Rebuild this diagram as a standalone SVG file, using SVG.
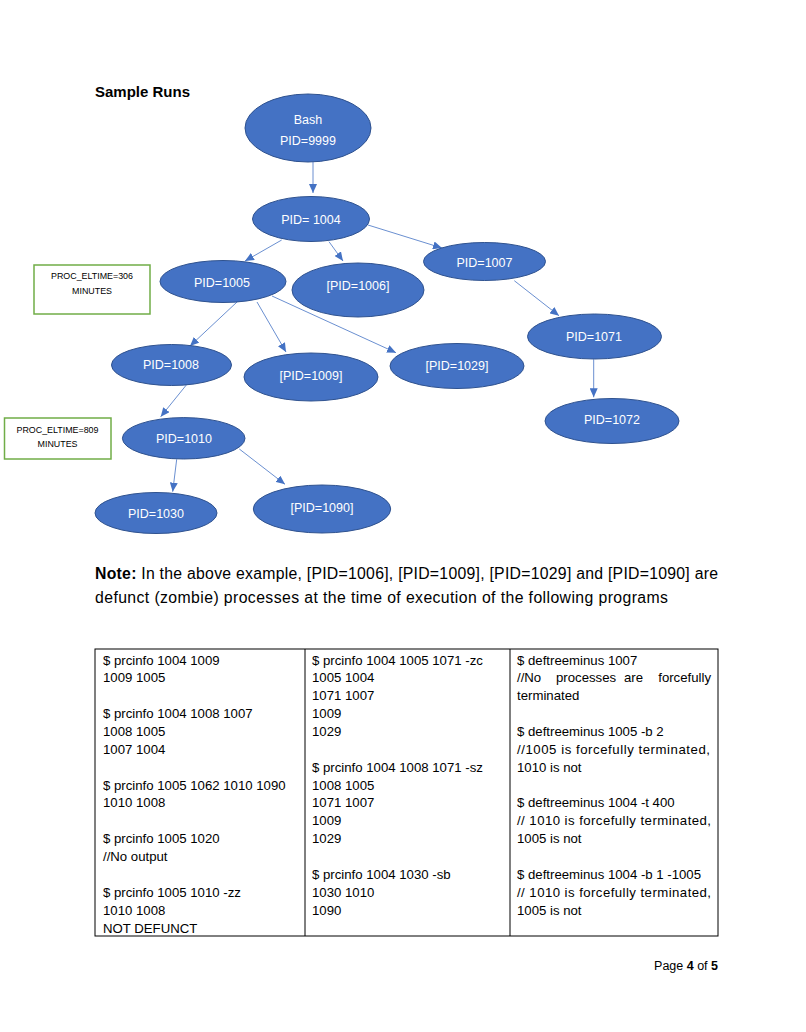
<svg xmlns="http://www.w3.org/2000/svg" width="806" height="1032" viewBox="0 0 806 1032">
<style>
.bg{fill:#ffffff}
.node ellipse{fill:#4472C4;stroke:#2F528F;stroke-width:1}
.node text{fill:#ffffff;font-family:"Liberation Sans",Arial,sans-serif;font-size:12.5px;text-anchor:middle}
.note-box rect{fill:#ffffff;stroke:#70AD47;stroke-width:1.5}
.note-box text{fill:#000000;font-family:"Liberation Sans",Arial,sans-serif;font-size:8.9px;text-anchor:middle}
.conn line{stroke:#4472C4;stroke-width:0.8;fill:none;marker-end:url(#ah)}
.body{fill:#000000;font-family:"Liberation Sans",Arial,sans-serif}
.tbl{fill:#000000;font-family:"Liberation Sans",Arial,sans-serif;font-size:13.2px}
.grid{stroke:#000000;stroke-width:1;fill:none}
</style>
<defs>
<marker id="ah" markerUnits="userSpaceOnUse" markerWidth="9" markerHeight="8" refX="9" refY="4" orient="auto">
<path d="M0,0 L9,4 L0,8 z" fill="#4472C4"/>
</marker>
</defs>
<rect class="bg" x="0" y="0" width="806" height="1032"/>

<text class="body" x="95" y="97" font-size="15" font-weight="bold" textLength="95" lengthAdjust="spacingAndGlyphs">Sample Runs</text>

<g id="connectors" class="conn">
<line x1="313" y1="162" x2="313" y2="193"/>
<line x1="281.7" y1="240" x2="245" y2="261"/>
<line x1="329" y1="241.7" x2="343" y2="261"/>
<line x1="368" y1="225" x2="442" y2="248"/>
<line x1="237" y1="302" x2="190" y2="346"/>
<line x1="257" y1="302" x2="286" y2="352"/>
<line x1="272" y1="296" x2="396" y2="352.7"/>
<line x1="514.3" y1="280.7" x2="559" y2="315.7"/>
<line x1="593.7" y1="359.3" x2="593.7" y2="397.3"/>
<line x1="187.7" y1="383.3" x2="160.7" y2="416.7"/>
<line x1="176.7" y1="459.3" x2="172.7" y2="491.7"/>
<line x1="239.3" y1="449" x2="285" y2="484.3"/>
</g>

<g id="node-bash" class="node">
<ellipse cx="308" cy="128" rx="63" ry="34"/>
<text x="308" y="123.5">Bash</text>
<text x="308" y="144.5">PID=9999</text>
</g>
<g id="node-1004" class="node">
<ellipse cx="311" cy="219" rx="58.5" ry="22.5"/>
<text x="311" y="223.5">PID= 1004</text>
</g>
<g id="node-1005" class="node">
<ellipse cx="223" cy="281.5" rx="63" ry="21"/>
<text x="222" y="286.5">PID=1005</text>
</g>
<g id="node-1006" class="node">
<ellipse cx="358" cy="290" rx="66" ry="27"/>
<text x="358" y="289.5">[PID=1006]</text>
</g>
<g id="node-1007" class="node">
<ellipse cx="484.5" cy="261.5" rx="61" ry="19"/>
<text x="484.5" y="266.5">PID=1007</text>
</g>
<g id="node-1071" class="node">
<ellipse cx="594.5" cy="336.5" rx="67" ry="22.5"/>
<text x="594" y="340.5">PID=1071</text>
</g>
<g id="node-1072" class="node">
<ellipse cx="612" cy="421" rx="67" ry="22.5"/>
<text x="612" y="424">PID=1072</text>
</g>
<g id="node-1029" class="node">
<ellipse cx="457" cy="366" rx="67" ry="22.5"/>
<text x="457" y="370">[PID=1029]</text>
</g>
<g id="node-1008" class="node">
<ellipse cx="171.5" cy="365" rx="60" ry="20.5"/>
<text x="171" y="368.5">PID=1008</text>
</g>
<g id="node-1009" class="node">
<ellipse cx="311" cy="377" rx="67" ry="24"/>
<text x="311" y="379.5">[PID=1009]</text>
</g>
<g id="node-1010" class="node">
<ellipse cx="183.7" cy="438.3" rx="61.3" ry="20.7"/>
<text x="184" y="442.5">PID=1010</text>
</g>
<g id="node-1030" class="node">
<ellipse cx="156" cy="513" rx="61" ry="20.5"/>
<text x="156" y="517.5">PID=1030</text>
</g>
<g id="node-1090" class="node">
<ellipse cx="322" cy="509" rx="68.7" ry="24"/>
<text x="322" y="511.5">[PID=1090]</text>
</g>

<g id="note-306" class="note-box">
<rect x="34" y="265" width="116" height="49"/>
<text x="92" y="279">PROC_ELTIME=306</text>
<text x="92" y="294">MINUTES</text>
</g>
<g id="note-809" class="note-box">
<rect x="4.5" y="418" width="106.5" height="41"/>
<text x="57.5" y="433">PROC_ELTIME=809</text>
<text x="57.5" y="446.5">MINUTES</text>
</g>

<text class="body" x="95" y="578.5" font-size="15.8" textLength="623" lengthAdjust="spacing"><tspan font-weight="bold">Note:</tspan> In the above example, [PID=1006], [PID=1009], [PID=1029] and [PID=1090] are</text>
<text class="body" x="95" y="602.5" font-size="15.8" textLength="573" lengthAdjust="spacing">defunct (zombie) processes at the time of execution of the following programs</text>

<g id="table">
<rect class="grid" x="95" y="649" width="623" height="287"/>
<line class="grid" x1="305" y1="649" x2="305" y2="936"/>
<line class="grid" x1="510" y1="649" x2="510" y2="936"/>

<g class="tbl">
<text x="103" y="664.5">$ prcinfo 1004 1009</text>
<text x="103" y="682.4">1009 1005</text>
<text x="103" y="718.1">$ prcinfo 1004 1008 1007</text>
<text x="103" y="736">1008 1005</text>
<text x="103" y="753.8">1007 1004</text>
<text x="103" y="789.6">$ prcinfo 1005 1062 1010 1090</text>
<text x="103" y="807.4">1010 1008</text>
<text x="103" y="843.2">$ prcinfo 1005 1020</text>
<text x="103" y="861">//No output</text>
<text x="103" y="896.8">$ prcinfo 1005 1010  -zz</text>
<text x="103" y="914.6">1010 1008</text>
<text x="103" y="932.5">NOT DEFUNCT</text>

<text x="312" y="664.5">$ prcinfo 1004 1005 1071 -zc</text>
<text x="312" y="682.4">1005 1004</text>
<text x="312" y="700.2">1071 1007</text>
<text x="312" y="718.1">1009</text>
<text x="312" y="736">1029</text>
<text x="312" y="771.7">$ prcinfo 1004 1008 1071 -sz</text>
<text x="312" y="789.6">1008 1005</text>
<text x="312" y="807.4">1071 1007</text>
<text x="312" y="825.3">1009</text>
<text x="312" y="843.2">1029</text>
<text x="312" y="878.9">$ prcinfo 1004 1030 -sb</text>
<text x="312" y="896.8">1030 1010</text>
<text x="312" y="914.6">1090</text>

<text x="517" y="664.5">$ deftreeminus 1007</text>
<text x="517" y="682.4">//No</text>
<text x="556" y="682.4">processes</text>
<text x="624" y="682.4">are</text>
<text x="711" y="682.4" text-anchor="end">forcefully</text>
<text x="517" y="700.2">terminated</text>
<text x="517" y="736">$ deftreeminus 1005 -b 2</text>
<text x="517" y="753.8" textLength="193" lengthAdjust="spacing">//1005 is forcefully terminated,</text>
<text x="517" y="771.7">1010 is not</text>
<text x="517" y="807.4">$ deftreeminus 1004 -t 400</text>
<text x="517" y="825.3" textLength="194" lengthAdjust="spacing">// 1010 is forcefully terminated,</text>
<text x="517" y="843.2">1005 is not</text>
<text x="517" y="878.9">$ deftreeminus 1004 -b 1 -1005</text>
<text x="517" y="896.8" textLength="194" lengthAdjust="spacing">// 1010 is forcefully terminated,</text>
<text x="517" y="914.6">1005 is not</text>
</g>
</g>

<text class="body" x="718" y="970" font-size="12.5" text-anchor="end">Page <tspan font-weight="bold">4</tspan> of <tspan font-weight="bold">5</tspan></text>
</svg>
